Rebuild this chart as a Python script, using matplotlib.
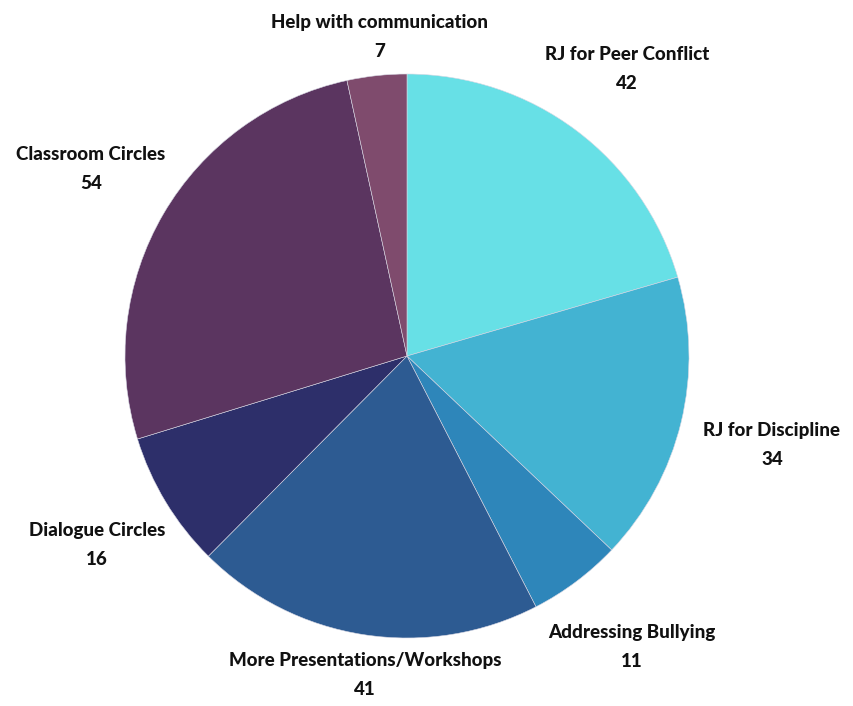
import matplotlib
matplotlib.use("Agg")
import matplotlib.pyplot as plt

categories = ["RJ for Peer Conflict", "RJ for Discipline", "Addressing Bullying",
              "More Presentations/Workshops", "Dialogue Circles", "Classroom Circles",
              "Help with communication"]
values = [42, 34, 11, 41, 16, 54, 7]
colors = ["#67E0E6", "#43B3D2", "#2E86BA", "#2D5B92", "#2D2F6A", "#5B3560", "#7F4B6D"]

# label block centres in pixel coords (x, y from top)
label_pos = [(627, 69), (772, 445), (632, 647), (365, 675), (97, 545), (91, 169), (380, 37)]

W, H = 854, 706
fig = plt.figure(figsize=(W / 100, H / 100), dpi=100)
ax = fig.add_axes([0, 0, 1, 1])

cx, cy, r = 407, H - 356, 282
ax.pie(values, colors=colors, startangle=90, counterclock=False,
       center=(cx, cy), radius=r, frame=True,
       wedgeprops=dict(linewidth=0.4, edgecolor="#d8d8e4"))
ax.set_xlim(0, W)
ax.set_ylim(0, H)
ax.set_aspect("equal")
ax.axis("off")

for name, v, (px, py) in zip(categories, values, label_pos):
    ax.text(px, H - py, f"{name}\n{v}", ha="center", va="center",
            fontsize=13.5, fontweight=900, family=["Lato", "DejaVu Sans"],
            color="#111111", linespacing=1.85)

fig.savefig("out.png", dpi=100)
